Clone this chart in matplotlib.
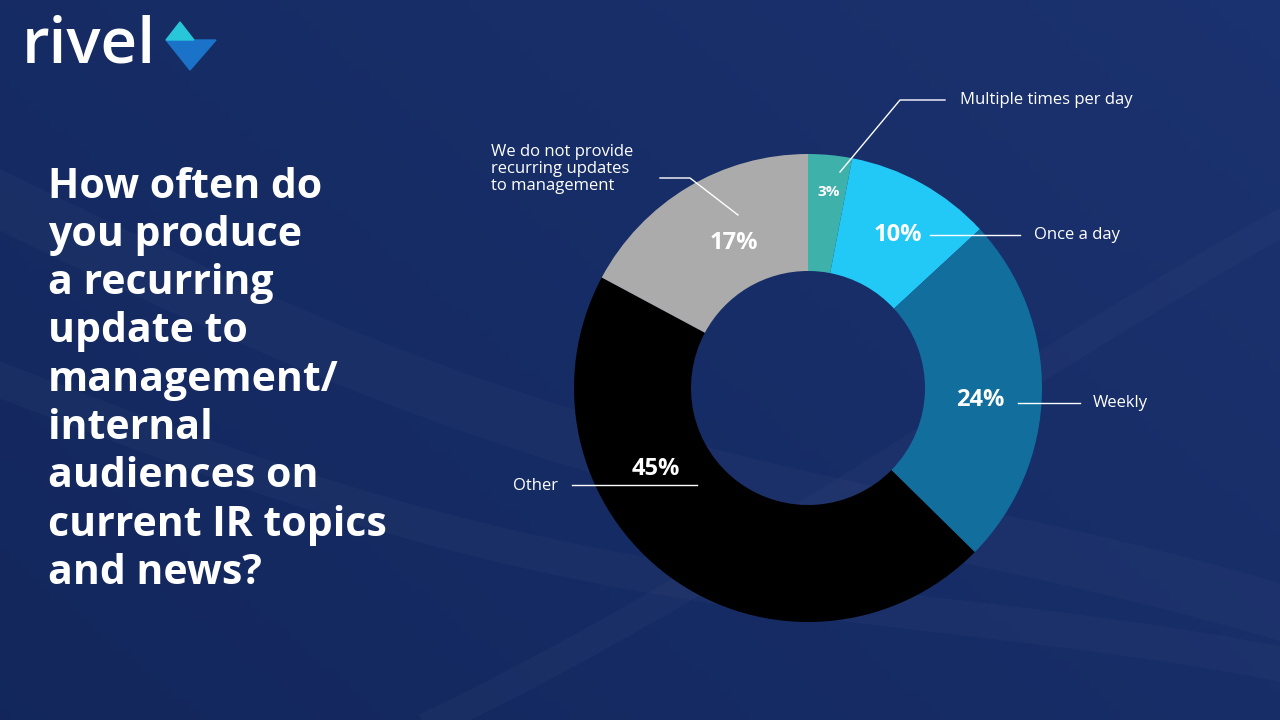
import matplotlib
matplotlib.use("Agg")
import matplotlib.pyplot as plt
import numpy as np
from matplotlib.patches import Polygon

categories = ["Multiple times per day", "Once a day", "Weekly", "Other",
              "We do not provide\nrecurring updates\nto management"]
values = [3, 10, 24, 45, 17]
colors = ["#3fb1ab", "#22c9f7", "#126f9d", "#000000", "#ababab"]
title_lines = ["How often do", "you produce", "a recurring", "update to",
               "management/", "internal", "audiences on", "current IR topics", "and news?"]

fig = plt.figure(figsize=(12.8, 7.2), dpi=100)
bg = fig.add_axes([0, 0, 1, 1])
bg.set_xlim(0, 1280); bg.set_ylim(720, 0); bg.axis("off")
yy, xx = np.mgrid[0:72, 0:128]
g = 0.5 + 0.5 * (xx / 128) * 0.6 - 0.2 * (yy / 72)
c0 = np.array([0x0e, 0x20, 0x50]) / 255
c1 = np.array([0x1e, 0x37, 0x78]) / 255
img = c0[None, None, :] * (1 - g[..., None]) + c1[None, None, :] * g[..., None]
bg.imshow(img, extent=[0, 1280, 720, 0], aspect="auto", zorder=0)
for a, b, w in [(0.35, 200, 40), (0.25, 380, 25), (-0.5, 900, 20)]:
    xs = np.linspace(0, 1280, 50)
    bg.plot(xs, b + a * xs + 40 * np.sin(xs / 300), color="white", alpha=0.025, lw=w, zorder=1)

bg.text(22, 46, "rivel", color="white", fontsize=46, family="Open Sans", fontweight="semibold",
        va="center", ha="left", zorder=3)
bg.add_patch(Polygon([[166, 40], [216, 40], [190, 70]], closed=True, color="#1a73c8", zorder=3))
bg.add_patch(Polygon([[166, 40], [180, 22], [194, 40]], closed=True, color="#27c6d8", zorder=3))

for i, line in enumerate(title_lines):
    bg.text(48, 187 + i * 48.3, line, color="white", fontsize=29.5, fontweight="bold",
            family="Open Sans", va="center", ha="left", zorder=3)

cx, cy, r = 808, 388, 234
pa = fig.add_axes([(cx - r) / 1280, (720 - cy - r) / 720, 2 * r / 1280, 2 * r / 720])
pa.pie(values, colors=colors, startangle=90, counterclock=False,
       wedgeprops=dict(width=0.5, edgecolor="none"))
pa.set_xlim(-1, 1); pa.set_ylim(-1, 1); pa.set_aspect("equal"); pa.axis("off")

ov = fig.add_axes([0, 0, 1, 1])
ov.set_xlim(0, 1280); ov.set_ylim(720, 0); ov.axis("off"); ov.patch.set_alpha(0)

pct_pos = [(829, 192, 11), (898, 235, 17), (980, 400, 17), (656, 469, 17), (734, 243, 17)]
for v, (x, y, fs) in zip(values, pct_pos):
    ov.text(x, y, f"{v}%", color="white", fontsize=fs, fontweight="bold", family="Open Sans",
            ha="center", va="center", zorder=5)

lc = dict(color="white", lw=1, zorder=5)
ov.plot([840, 900, 945], [172, 100, 100], **lc)
ov.plot([930, 1020], [235, 235], **lc)
ov.plot([1018, 1080], [403, 403], **lc)
ov.plot([572, 697], [485, 485], **lc)
ov.plot([660, 690, 738], [178, 178, 215], **lc)
tk = dict(color="white", fontsize=12, family="Open Sans", zorder=5, va="center")
ov.text(960, 100, categories[0], ha="left", **tk)
ov.text(1034, 235, categories[1], ha="left", **tk)
ov.text(1093, 403, categories[2], ha="left", **tk)
ov.text(558, 486, categories[3], ha="right", **tk)
ov.text(491, 169, categories[4], ha="left", linespacing=1.05, **tk)

fig.savefig("out.png", dpi=100)
